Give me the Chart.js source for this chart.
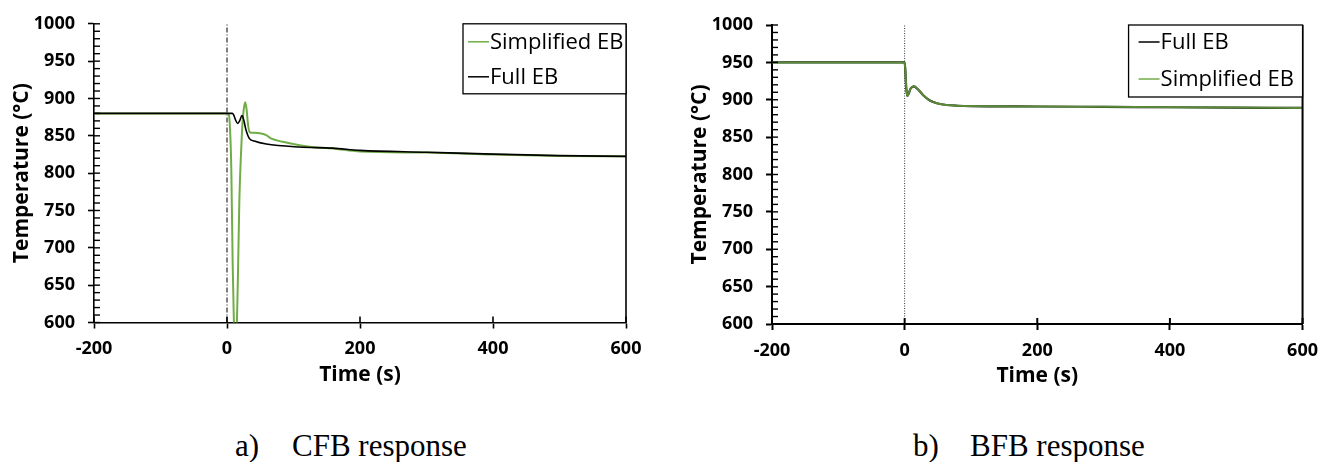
<!DOCTYPE html>
<html>
<head>
<meta charset="utf-8">
<script src="https://cdn.jsdelivr.net/npm/chart.js@4.4.1/dist/chart.umd.min.js"></script>
<style>
  body { margin: 0; background: #fff; width: 1321px; height: 462px; overflow: hidden; position: relative; }
  .wrap { position: absolute; top: 0; height: 400px; }
  #wrapA { left: 0; width: 660px; }
  #wrapB { left: 660px; width: 668px; }
  .caption { position: absolute; top: 430px; font-family: "Liberation Serif", "DejaVu Serif", serif; font-size: 31px; line-height: 1; color: #000; white-space: nowrap; }
  .caption span { display: inline-block; }
  .caption .lbl { width: 57px; }
</style>
</head>
<body>
<div class="wrap" id="wrapA"><canvas id="chartA" width="660" height="400"></canvas></div>
<div class="wrap" id="wrapB"><canvas id="chartB" width="668" height="400"></canvas></div>
<div class="caption" style="left:235px"><span class="lbl">a)</span><span>CFB response</span></div>
<div class="caption" style="left:913px"><span class="lbl">b)</span><span>BFB response</span></div>

<script>
// --- Data: a) CFB ---
const cfbFullTime = [-200, 0, 8, 10, 13, 16, 19, 22.5, 25, 28.5, 33.5, 41, 59, 109, 159, 200, 300, 400, 500, 600];
const cfbFullTemp = [880, 880, 880, 878, 871, 866.5, 870, 877, 872, 858, 846.5, 843, 839, 835, 833.5, 830.5, 828, 825.5, 823.5, 822.5];
const cfbSimpTime = [-200, 0, 2.5, 4.5, 6.5, 8.5, 10.5, 12.5, 14.5, 16.5, 18.5, 20.5, 22.5, 25, 27.5, 29.5, 31.5, 34, 39, 49, 59, 66, 84, 109, 134, 159, 200, 300, 400, 500, 600];
const cfbSimpTemp = [880, 880, 879, 860, 805, 680, 595, 565, 585, 665, 760, 815, 855, 884, 895, 885, 866, 855, 854, 853.5, 851, 846.5, 842, 837.5, 834.5, 833, 829, 827.5, 825, 823, 822.5];

// --- Data: b) BFB ---
const bfbFullTime = [-200, 0, 1, 2.5, 4, 6, 9, 14, 20, 28, 38, 50, 63, 80, 100, 200, 300, 400, 500, 600];
const bfbFullTemp = [950, 950, 940, 915, 905, 908, 915, 918, 914, 906, 899, 895, 893, 892, 891.5, 891, 890.5, 890, 889.5, 889];
const bfbSimpTime = [-200, 0, 1, 2.5, 4, 6, 9, 14, 20, 28, 38, 50, 63, 80, 100, 200, 300, 400, 500, 600];
const bfbSimpTemp = [950, 950, 940, 915, 905, 908, 915, 918, 914, 906, 899, 895, 893, 892, 891.5, 891, 890.5, 890, 889.5, 889];

// step change marker and axes
const stepTime = 0;
const timeTicks = [-200, 0, 200, 400, 600];
const tempTicks = [600, 650, 700, 750, 800, 850, 900, 950, 1000];

const GREEN = '#70AD47';
const tickFont = { family: '"Open Sans", "Noto Sans", sans-serif', size: 18, weight: 'bold' };
const titleFont = { family: '"Open Sans", "Noto Sans", sans-serif', size: 21, weight: 'bold' };

function pts(xs, ys) {
    return xs.map((x, i) => ({ x: x, y: ys[i] }));
}

// draws right frame, inner tick marks and the boxed legend
const framePlugin = {
    id: 'frame',
    afterDraw(chart, args, opts) {
        const { ctx, chartArea: a, scales } = chart;
        ctx.save();
        ctx.strokeStyle = '#000';
        ctx.lineWidth = opts.axisWidth;
        // right border
        ctx.beginPath();
        ctx.moveTo(a.right, a.top);
        ctx.lineTo(a.right, a.bottom);
        ctx.stroke();
        // minor ticks on y axis (inside)
        ctx.lineWidth = 1.4;
        for (let v = tempTicks[0]; v <= tempTicks[tempTicks.length - 1]; v += 10) {
            const y = scales.y.getPixelForValue(v);
            ctx.beginPath();
            ctx.moveTo(a.left, y);
            ctx.lineTo(a.left + 6, y);
            ctx.stroke();
        }
        // x ticks cross the axis
        ctx.lineWidth = opts.axisWidth;
        timeTicks.forEach(t => {
            const x = scales.x.getPixelForValue(t);
            ctx.beginPath();
            ctx.moveTo(x, a.bottom);
            ctx.lineTo(x, a.bottom - 6);
            ctx.stroke();
        });
        // legend box
        const L = opts.legend;
        const bx = a.right - L.width, by = a.top;
        ctx.fillStyle = '#fff';
        ctx.fillRect(bx, by, L.width, L.height);
        ctx.lineWidth = 1.3;
        ctx.strokeRect(bx, by, L.width, L.height);
        ctx.font = '22px "Open Sans", "Noto Sans", sans-serif';
        ctx.textBaseline = 'middle';
        L.items.forEach((it, i) => {
            const y = by + L.rows[i];
            ctx.strokeStyle = it.color;
            ctx.lineWidth = 1.5;
            ctx.beginPath();
            ctx.moveTo(bx + L.lineX, y);
            ctx.lineTo(bx + L.lineX + 21, y);
            ctx.stroke();
            ctx.fillStyle = '#000';
            ctx.fillText(it.text, bx + L.lineX + 22, y + 1);
        });
        ctx.restore();
    }
};

function makeChart(canvasId, cfg) {
    const ctx = document.getElementById(canvasId).getContext('2d');
    return new Chart(ctx, {
        type: 'line',
        data: { datasets: cfg.datasets },
        options: {
            responsive: false,
            animation: false,
            layout: { padding: cfg.padding },
            elements: { point: { radius: 0 } },
            plugins: {
                legend: { display: false },
                tooltip: { enabled: false },
                frame: { axisWidth: cfg.axisWidth, legend: cfg.legend }
            },
            scales: {
                x: {
                    type: 'linear',
                    min: -200, max: 600,
                    afterBuildTicks: s => { s.ticks = timeTicks.map(v => ({ value: v })); },
                    afterFit: s => { s.height = 66; },
                    border: { color: '#000', width: cfg.axisWidth },
                    grid: { drawOnChartArea: false, tickLength: 6, tickColor: '#000', tickWidth: cfg.axisWidth },
                    ticks: { color: '#000', font: tickFont, padding: 10, maxRotation: 0, callback: v => String(v) },
                    title: { display: true, text: 'Time (s)', color: '#000', font: titleFont, padding: { top: 0, bottom: 1 } }
                },
                y: {
                    min: 600, max: 1000,
                    afterBuildTicks: s => { s.ticks = tempTicks.map(v => ({ value: v })); },
                    afterFit: s => { s.width = 94; },
                    border: { color: '#000', width: cfg.axisWidth },
                    grid: { drawOnChartArea: false, tickLength: 6, tickColor: '#000', tickWidth: cfg.axisWidth },
                    ticks: { color: '#000', font: tickFont, padding: 13, callback: v => String(v) },
                    title: { display: true, text: 'Temperature (°C)', color: '#000', font: titleFont, padding: { top: 9, bottom: 0 } }
                }
            }
        },
        plugins: [framePlugin]
    });
}

makeChart('chartA', {
    padding: { left: 0, right: 34, top: 23.5, bottom: 11.5 },
    axisWidth: 1.6,
    legend: {
        width: 163, height: 70, lineX: 5, rows: [18, 53],
        items: [{ text: 'Simplified EB', color: GREEN }, { text: 'Full EB', color: '#000' }]
    },
    datasets: [
        { label: 'Simplified EB', data: pts(cfbSimpTime, cfbSimpTemp), borderColor: GREEN, borderWidth: 2, cubicInterpolationMode: 'monotone', order: 1 },
        { label: 'Full EB', data: pts(cfbFullTime, cfbFullTemp), borderColor: '#000', borderWidth: 1.6, cubicInterpolationMode: 'monotone', order: 0 },
        { label: 'step', data: [{ x: stepTime, y: 600 }, { x: stepTime, y: 1000 }], borderColor: '#000', borderWidth: 1, borderDash: [5, 2, 1, 2], order: 2 }
    ]
});

makeChart('chartB', {
    padding: { left: 18, right: 0, top: 25, bottom: 10 },
    axisWidth: 2,
    legend: {
        width: 174, height: 72, lineX: 10, rows: [17, 54],
        items: [{ text: 'Full EB', color: '#000' }, { text: 'Simplified EB', color: GREEN }]
    },
    datasets: [
        { label: 'Full EB', data: pts(bfbFullTime, bfbFullTemp), borderColor: '#000', borderWidth: 2.2, cubicInterpolationMode: 'monotone', order: 1 },
        { label: 'Simplified EB', data: pts(bfbSimpTime, bfbSimpTemp), borderColor: 'rgba(112,173,71,0.8)', borderWidth: 2, cubicInterpolationMode: 'monotone', order: 0 },
        { label: 'step', data: [{ x: stepTime, y: 600 }, { x: stepTime, y: 1000 }], borderColor: '#333', borderWidth: 1, borderDash: [1, 1.5], order: 2 }
    ]
});
</script>
</body>
</html>
